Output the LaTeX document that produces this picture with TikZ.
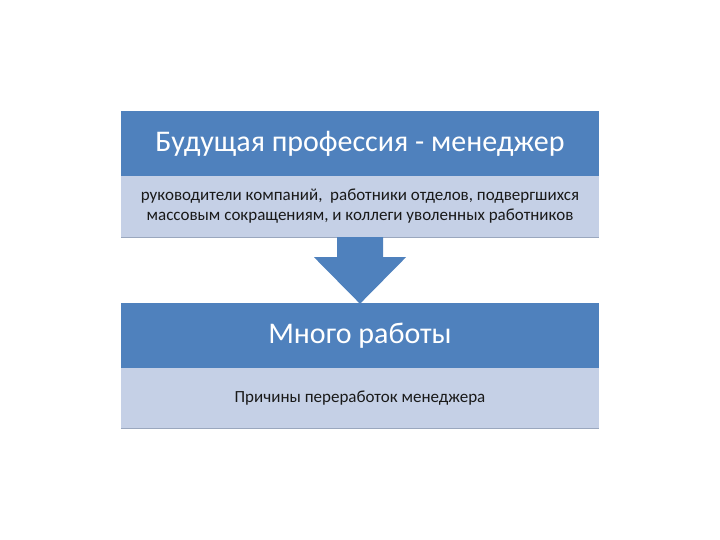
\documentclass[tikz,border=0pt]{standalone}
\usepackage{fontspec}
\setmainfont{Carlito}
\begin{document}
\begin{tikzpicture}[x=1pt,y=-1pt]
\definecolor{accent}{HTML}{4F81BD}
\definecolor{tint}{HTML}{C5D0E6}
\definecolor{edge}{HTML}{9AA7BE}
\tikzset{
  headbox/.style={fill=accent, draw=none, minimum width=478pt, minimum height=65pt, inner sep=0pt, text=white, font=\fontsize{30}{36}\selectfont},
  subbox/.style={fill=tint, draw=none, minimum width=478pt, inner sep=0pt, text=black!90, font=\fontsize{17}{20}\selectfont, align=center},
  arrowfill/.style={fill=accent, draw=none}
}
\useasboundingbox (0,0) rectangle (720,540);
\node[headbox] (h1) at (360,143.5) {Будущая профессия - менеджер};
\node[subbox, minimum height=61pt] (s1) at (360,206.5) {руководители компаний,\ \ работники отделов, подвергшихся\\массовым сокращениям, и коллеги уволенных работников};
\node[headbox] (h2) at (360,335.5) {Много работы};
\node[subbox, minimum height=60pt] (s2) at (360,398) {Причины переработок менеджера};
\draw[edge, line width=1pt] (s1.south west) -- (s1.south east);
\draw[edge, line width=1pt] (s2.south west) -- (s2.south east);
\coordinate (tip) at (h2.north);
\fill[accent] ([xshift=-23pt]s1.south) -- ([xshift=23pt]s1.south) -- ([xshift=23pt,yshift=-20pt]s1.south) -- ([xshift=46pt,yshift=-20pt]s1.south) -- ([yshift=-1pt]tip) -- ([xshift=-46pt,yshift=-20pt]s1.south) -- ([xshift=-23pt,yshift=-20pt]s1.south) -- cycle;
\end{tikzpicture}
\end{document}
